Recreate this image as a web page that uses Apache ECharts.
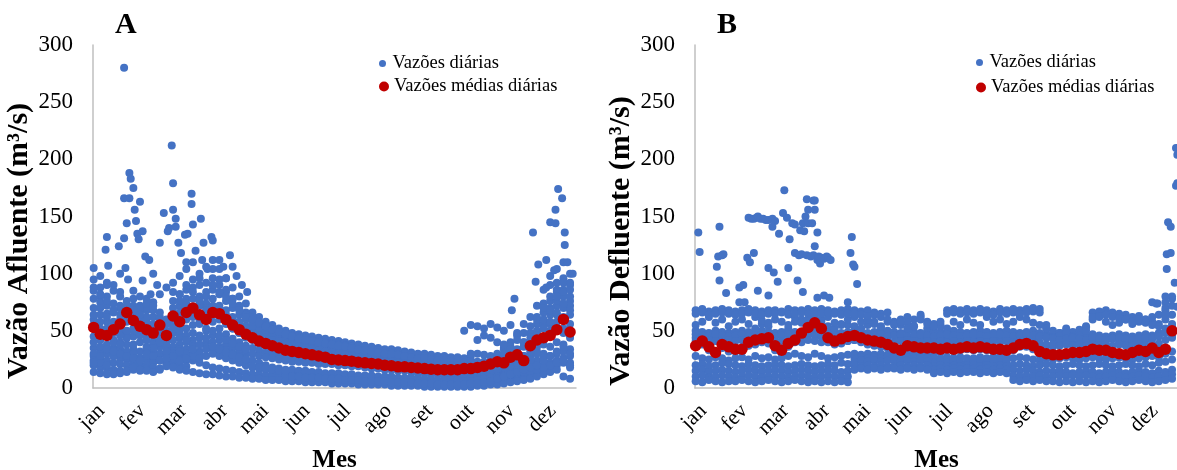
<!DOCTYPE html>
<html><head><meta charset="utf-8">
<script src="https://cdn.jsdelivr.net/npm/echarts@6/dist/echarts.min.js"></script>
<style>html,body{margin:0;padding:0;background:#fff}#c{width:1177px;height:470px}</style>
</head><body><div id="c"></div>
<script>
// ---- categories / tick labels ----
const months = ['jan','fev','mar','abr','mai','jun','jul','ago','set','out','nov','dez'];
const monthLengths = [31,28,31,30,31,30,31,31,30,31,30,31];
const sampleDays = [0,5,10,15,20,25,30,35,40,45,50,55,60,65,70,75,80,85,90,95,100,105,110,115,120,125,130,135,140,145,150,155,160,165,170,175,180,185,190,195,200,205,210,215,220,225,230,235,240,245,250,255,260,265,270,275,280,285,290,295,300,305,310,315,320,325,330,335,340,345,350,355,360];

// ---- A: Vazão Afluente, daily values (one row per year-like trace, read every 5 days) ----
const afl1 = [105,98,92,85,80,76, 78,72,68,75,82,88, 92,98,104,110,100,106, 112,104,96,88,80,74, 66,62,58,55,52,50, 48,47,46,45,44,43, 42,41,40,39,38,37, 36,35,34,34,33,32, 31,30,30,29,28,28, 27,27,26,28,30,29, 28,30,34,40,48,56, 62,72,86,98,104,110,100];
const afl2 = [95,88,80,74,70,66, 85,80,70,62,60,58, 64,72,86,95,90,84, 96,90,84,78,72,66, 62,58,55,52,50,48, 46,45,44,42,41,40, 39,38,37,36,35,34, 33,33,32,31,30,29, 28,28,27,26,26,25, 25,24,24,23,22,22, 22,24,26,30,34,40, 48,56,66,76,86,96,90];
const afl3 = [85,80,72,68,64,60, 62,58,55,52,50,48, 76,82,78,88,96,92, 86,82,76,70,64,60, 56,53,50,48,46,44, 42,41,40,39,38,37, 36,35,34,33,33,32, 31,30,29,29,28,27, 27,26,25,24,23,22, 22,21,50,55,54,52, 56,53,50,55,46,40, 44,50,56,64,72,80,76];
const afl4 = [70,64,58,55,60,66, 72,66,60,56,52,50, 58,66,62,70,80,74, 78,72,68,62,58,54, 50,47,45,43,41,40, 38,37,36,35,34,33, 32,31,30,29,28,27, 26,25,24,24,23,22, 22,21,21,20,20,19, 19,18,18,18,17,17, 18,19,20,22,24,26, 30,36,42,50,58,62,56];
const afl5 = [55,50,46,42,40,38, 45,48,44,40,38,36, 48,55,60,66,58,62, 70,64,58,52,48,44, 42,39,37,35,34,32, 30,29,28,27,26,25, 24,24,23,22,22,21, 20,20,19,19,18,18, 17,17,16,16,15,15, 14,14,14,13,13,14, 15,16,18,20,24,28, 34,40,38,46,52,48,44];
const afl6 = [45,42,38,35,33,30, 34,40,36,32,30,28, 36,44,52,48,56,50, 58,52,47,43,40,37, 35,33,31,30,28,27, 26,25,25,24,24,23, 24,23,23,22,22,22, 21,21,20,20,19,19, 18,18,17,17,16,16, 15,15,14,14,15,16, 16,18,20,22,24,26, 28,32,30,36,40,38,34];
const afl7 = [35,32,30,28,26,25, 28,26,24,26,30,28, 32,38,34,42,46,40, 46,42,38,35,32,30, 30,28,27,26,25,24, 23,23,22,22,21,21, 21,20,20,19,19,18, 17,17,16,16,15,15, 14,13,13,12,12,11, 11,10,10,9,9,10, 10,12,14,16,18,20, 22,24,26,28,30,32,28];
const afl8 = [28,26,24,22,21,20, 22,20,20,22,24,22, 26,28,24,30,32,28, 34,30,27,25,23,21, 18,17,16,15,14,14, 13,13,12,12,12,11, 11,11,10,10,10,9, 9,9,8,8,8,7, 7,6,6,6,5,5, 5,5,4,4,5,6, 7,8,9,10,12,14, 16,18,20,22,24,26,22];
const afl9 = [20,18,17,16,15,14, 16,15,17,18,16,20, 22,20,19,24,22,20, 18,17,16,15,14,13, 12,12,11,11,10,10, 9,9,8,8,8,7, 7,7,6,6,6,5, 5,5,5,4,4,4, 4,3,3,3,3,2, 2,2,2,2,3,3, 4,5,6,7,8,10, 12,14,16,18,20,22,18];
const afl10 = [14,13,12,12,13,15, 18,16,15,14,17,19, 18,16,15,14,13,12, 12,11,10,10,9,9, 8,8,7,7,7,6, 6,6,5,5,5,5, 4,4,4,4,3,3, 3,3,3,2,2,2, 2,2,1,1,1,1, 1,1,1,1,2,2, 3,3,4,5,6,7, 8,10,12,14,16,10,8];
const afl11 = [60,75,90,68,52,48, 58,70,62,54,48,44, 70,82,90,78,72,66, 104,95,86,78,70,64, 58,54,50,47,44,42, 40,38,37,36,35,34, 33,32,31,30,29,28, 27,26,26,25,24,23, 22,22,21,20,19,19, 18,18,17,17,16,16, 20,28,35,30,26,24, 40,60,74,90,84,70,64];
const afl12 = [40,52,65,58,48,44, 52,62,56,50,46,42, 52,46,40,55,62,70, 64,60,56,52,48,45, 46,44,42,40,38,36, 34,33,32,31,30,29, 28,28,27,26,25,24, 23,22,22,21,20,20, 19,18,18,17,17,16, 15,15,16,15,14,14, 16,17,18,20,22,24, 36,48,60,70,76,86,72];
const afl13 = [78,70,62,66,72,58, 50,46,42,38,36,34, 42,50,46,38,44,52, 50,46,42,39,36,34, 54,51,49,47,45,43, 41,40,39,38,37,36, 35,34,33,32,32,31, 30,29,28,28,27,26, 25,25,24,23,23,22, 21,20,20,19,19,19, 14,16,20,26,22,18, 24,30,44,56,64,52,46];
const afl14 = [30,36,48,40,34,32, 38,32,28,35,42,38, 30,34,42,36,30,36, 40,36,33,30,28,26, 24,22,20,18,17,16, 16,15,15,14,14,13, 13,13,12,12,11,11, 11,10,10,10,9,9, 9,8,8,8,7,7, 7,7,6,6,7,8, 9,10,11,12,13,14, 15,16,18,20,22,24,20];
const afl15 = [88,82,76,90,84,72, 66,60,74,68,62,56, 84,76,70,62,74,80, 90,84,80,74,68,62, 58,56,53,51,49,47, 45,44,43,42,41,40, 39,38,37,36,36,35, 34,33,32,31,31,30, 29,29,28,27,26,26, 25,25,24,24,23,23, 24,26,30,36,42,48, 54,62,70,80,92,84,80];
const afl16 = [24,22,20,28,38,44, 30,26,34,46,40,32, 26,24,30,28,26,44, 30,28,26,24,22,20, 19,18,17,16,15,15, 10,10,9,9,9,8, 8,8,7,7,7,6, 6,6,6,5,5,5, 5,4,4,4,3,3, 3,3,3,4,4,5, 6,8,10,12,14,16, 18,20,24,28,32,36,30];
const afl17 = [64,58,52,48,46,50, 68,64,78,72,66,60, 54,62,74,84,76,68, 72,68,64,60,56,52, 48,46,44,42,41,39, 37,36,35,34,33,32, 31,30,29,28,27,26, 25,24,23,23,22,21, 21,20,20,19,19,18, 17,17,18,30,42,46, 44,40,38,34,30,28, 32,44,52,68,80,92,86];
const afl18 = [22,28,34,32,30,28, 26,24,30,28,24,26, 28,32,26,34,38,34, 36,34,31,29,27,25, 60,57,54,51,49,47, 45,43,42,41,40,39, 38,37,36,35,34,33, 32,31,30,30,29,28, 27,26,26,25,24,24, 23,23,22,22,21,21, 22,23,25,28,32,36, 40,46,52,58,66,74,68];
// isolated high daily values [day, m3/s]
const outliersAfl = [[23,280],[27,188],[28,183],[30,175],[23,166],[27,166],[31,156],[25,144],[32,146],[35,163],[23,131],[19,124],[10,132],[9,121],[11,107],[33,135],[34,130],[37,137],[39,115],[42,112],[43,82],[37,94],[20,100],[24,105],[26,95],[45,100],[48,90],
[59,212],[60,179],[53,153],[60,156],[62,148],[62,141],[57,140],[56,137],[50,127],[64,127],[74,170],[74,161],[75,143],[81,148],[69,134],[71,135],[89,132],[90,129],[83,127],[103,116],[105,106],[66,118],[70,110],[77,120],[82,112],[86,104],[95,112],[98,106],[100,96],[108,98],[112,90],[116,84],
[351,174],[354,166],[349,156],[345,145],[356,136],[332,136],[356,125],[349,144],[336,108],[342,112],[348,103],[334,93],[342,88],[318,78],[316,68],[358,110],[362,100],[360,92]];
// daily mean (every 5 days)
const meanAfl = [53,47,46,51,56,66, 59,54,51,48,55,46, 63,58,66,70,64,60, 66,65,60,55,51,47, 44,41,39,37,35,33, 32,31,30,29,28,27, 25,24.5,24,23.5,22.5,22, 21.5,21,20,19.5,18.5,18.5, 18,17.5,17,16.5,16,16, 16,16,17,17,18,19, 21,23,22,27,29,24, 37,42,44,46,51,60,49];

// ---- B: Vazão Defluente ----
const def1 = [68,69,67,68,69,68, 67,68,69,68,67,68, 68,67,69,68,68,69, 68,69,68,67,68,69, 68,67,68,66,65,66, 58,55,62,60,64,52, 50,55,68,69,68,69, 68,69,68,67,69,68, 69,68,69,70,69,55, 46,48,50,47,48,54, 66,67,68,66,65,64, 62,63,60,58,56,75,78];
const def2 = [50,49,48,50,49,48, 49,50,49,48,50,49, 48,49,50,49,48,50, 49,48,50,49,48,49, 50,49,48,49,50,48, 49,48,50,49,48,49, 48,49,48,50,49,48, 49,50,49,48,49,50, 49,48,49,50,48,47, 46,45,46,47,46,45, 47,46,45,46,47,46, 45,46,47,46,48,52,56];
const def3 = [44,46,42,45,43,47, 44,42,46,52,56,54, 45,48,52,58,60,56, 62,58,54,52,56,55, 54,52,55,58,53,50, 46,44,42,45,43,44, 42,44,43,41,44,42, 43,42,44,42,43,41, 42,44,45,43,40,38, 36,38,40,39,41,42, 40,42,41,43,40,39, 38,40,42,44,46,60,64];
const def4 = [36,38,33,30,35,32, 32,35,37,38,40,39, 33,30,36,40,45,50, 52,46,40,38,39,41, 42,40,38,37,36,35, 32,30,34,33,32,32, 32,31,33,32,33,34, 33,34,33,32,31,31, 33,36,36,34,29,27, 27,28,29,29,30,31, 32,31,30,29,27,28, 30,31,29,32,28,33,44];
const def5 = [28,26,25,27,26,24, 26,27,25,28,26,27, 25,26,28,30,28,27, 30,28,26,27,28,29, 30,29,30,29,30,29, 30,29,30,29,30,29, 27,26,27,26,27,26, 26,27,26,27,26,27, 26,27,26,25,24,26, 25,26,27,26,25,26, 27,26,25,26,27,26, 25,26,27,28,27,30,32];
const def6 = [20,21,19,20,22,21, 20,19,21,20,19,20, 21,20,19,20,21,20, 19,20,21,20,22,21, 26,27,26,27,26,27, 27,26,27,26,27,26, 22,23,22,23,22,23, 22,23,22,23,22,23, 20,21,20,19,20,21, 20,19,20,21,20,19, 20,21,20,19,20,21, 20,19,21,20,22,23,25];
const def7 = [15,16,14,15,16,15, 14,15,16,15,14,15, 16,15,14,15,16,15, 14,15,16,15,14,15, 23,24,23,24,23,24, 24,23,24,23,24,23, 19,20,19,20,19,20, 20,19,20,19,20,19, 16,15,16,15,14,15, 14,15,14,13,14,15, 14,13,14,15,14,13, 14,15,14,13,15,14,16];
const def8 = [10,11,9,10,11,10, 9,10,11,10,9,10, 11,10,9,10,11,10, 9,10,11,10,9,10, 20,19,20,19,20,19, 19,20,19,20,19,20, 16,17,16,17,16,17, 17,16,17,16,17,16, 11,10,11,10,11,10, 10,11,10,11,10,11, 10,9,10,11,10,9, 10,11,10,9,10,11,12];
const def9 = [6,5,7,6,5,6, 6,7,6,5,6,7, 6,5,6,7,6,5, 6,5,6,5,6,5, 16,17,16,17,16,17, 17,16,17,16,17,16, 13,14,13,14,13,14, 14,13,14,13,14,13, 7,6,7,6,7,6, 6,5,6,5,6,5, 6,5,6,7,6,5, 6,7,6,5,6,7,8];
const def10 = [55,58,62,57,60,54, 58,60,56,62,59,57, 60,58,55,62,57,60, 58,60,62,57,55,60, 62,58,60,56,54,58, 55,60,57,54,62,58, 56,54,52,58,55,60, 57,55,62,58,60,56, 58,62,60,57,55,52, 50,48,52,49,51,53, 60,62,58,55,57,60, 56,58,60,62,64,70,80];
const def11 = [65,66,64,65,66,65, 64,65,66,65,64,65, 65,66,64,65,66,65, 64,65,66,65,64,65, 65,64,63,64,62,60, 56,58,52,54,60,56, 54,58,65,66,65,66, 65,66,65,64,66,65, 66,65,66,67,66,52, 44,46,48,45,46,50, 62,63,64,62,61,60, 58,60,57,55,54,68,72];
const def12 = [47,46,45,47,46,45, 46,47,45,46,47,46, 45,46,47,46,45,47, 46,45,47,46,45,46, 47,46,45,46,47,45, 46,47,45,46,47,46, 45,46,47,46,45,46, 47,46,45,46,47,46, 45,46,47,46,45,44, 43,42,43,44,43,42, 44,43,42,43,44,43, 42,43,44,43,45,48,54];
const def13 = [41,40,42,41,40,42, 41,42,40,41,42,41, 40,41,42,41,40,42, 41,40,42,41,40,41, 42,41,40,41,42,41, 40,41,42,41,40,41, 40,41,40,41,40,41, 40,41,40,41,40,41, 40,41,40,39,38,37, 38,37,38,37,38,37, 38,37,38,37,38,37, 37,38,37,38,39,42,46];
const outliersDef = [[2,136],[3,119],[18,141],[16,106],[17,115],[20,116],[21,117],[18,94],[23,83],[33,88],[36,90],[39,114],[41,110],[44,118],[47,85],[33,75],[37,75],
[40,149],[42,148],[44,148],[46,149],[47,150],[49,148],[51,148],[53,147],[55,147],[58,148],[60,146],[58,141],[63,135],[55,105],[59,101],[62,93],[55,81],
[67,173],[66,153],[69,149],[73,144],[75,143],[71,130],[70,105],[77,94],[81,84],[75,118],[84,165],[89,164],[90,164],[85,156],[83,150],[81,144],[90,156],[85,144],[88,144],[79,138],[82,137],[92,136],[90,124],[94,109],[92,112],[99,115],[92,79],[97,81],[101,79],
[78,116],[80,117],[84,116],[87,115],[89,116],[93,115],[95,114],[97,113],[100,114],[102,112],
[118,132],[117,118],[119,108],[120,106],[122,91],[115,75],
[363,210],[364,204],[363,177],[364,179],[357,145],[359,141],[356,117],[359,118],[356,104],[355,80],[355,64],[348,74],[349,74],[345,75],[364,71],[362,92]];
const meanDef = [37,41,36,31,38,36, 34,34,40,42,43,44, 37,33,39,42,48,53, 57,52,44,41,43,45, 46,44,42,41,40,38, 35,33,37,36,35,35, 35,34,35,34,35,36, 35,36,35,34,34,33, 35,38,39,37,32,30, 29,29,30,31,31,32, 34,33,33,31,30,29, 31,33,32,35,31,34,50];

// ---- build ----
const SERIF = "'Liberation Serif','Times New Roman',serif";
const dayLabels = [];
months.forEach((m, i) => { for (let k = 0; k < monthLengths[i]; k++) dayLabels.push(m); });
const toPairs = vals => vals.map((v, i) => [sampleDays[i], v]);
const blueA = [].concat(...[afl1,afl2,afl3,afl4,afl5,afl6,afl7,afl8,afl9,afl10,afl11,afl12,afl13,afl14,afl15,afl16,afl17,afl18].map(toPairs), outliersAfl);
const blueB = [].concat(...[def1,def2,def3,def4,def5,def6,def7,def8,def9,def10,def11,def12,def13].map(toPairs), outliersDef);

const BLUE = '#4472C4', RED = '#C00000', AXIS = '#BFBFBF';
function xAx(gi) {
  return { type: 'category', gridIndex: gi, data: dayLabels, boundaryGap: true,
    axisLine: { show: true, lineStyle: { color: AXIS, width: 1.5 } }, axisTick: { show: false }, splitLine: { show: false },
    axisLabel: { interval: 30, rotate: 45, margin: 12, fontFamily: SERIF, fontSize: 21.5, color: '#000', align: 'right', verticalAlign: 'top' },
    name: 'Mes', nameLocation: 'middle', nameGap: 60,
    nameTextStyle: { fontFamily: SERIF, fontSize: 25, fontWeight: 'bold', color: '#000' } };
}
function yAx(gi, name) {
  return { type: 'value', gridIndex: gi, min: 0, max: 300, interval: 50,
    axisLine: { show: true, lineStyle: { color: AXIS, width: 1.5 } }, axisTick: { show: false }, splitLine: { show: false },
    axisLabel: { margin: 20, fontFamily: SERIF, fontSize: 23, color: '#000' },
    name: name, nameLocation: 'middle', nameGap: 50,
    nameTextStyle: { fontFamily: SERIF, fontSize: 30, fontWeight: 'bold', color: '#000', padding: [0, 49, 0, 0] } };
}
function legend(name, left, top, size) {
  return { data: [name], left: left, top: top, padding: 0, icon: 'circle', itemWidth: 10, itemHeight: size,
    textStyle: { fontFamily: SERIF, fontSize: 18.5, color: '#000' } };
}
const option = {
  animation: false,
  backgroundColor: '#fff',
  title: [
    { text: 'A', left: 115, top: 10, padding: 0, textStyle: { fontFamily: SERIF, fontSize: 30, fontWeight: 'bold', color: '#000' } },
    { text: 'B', left: 717, top: 10, padding: 0, textStyle: { fontFamily: SERIF, fontSize: 30, fontWeight: 'bold', color: '#000' } }
  ],
  legend: [
    legend('Vazões diárias', 379, 54, 7),
    legend('Vazões médias diárias', 379, 77, 11),
    legend('Vazões diárias', 976, 53, 7),
    legend('Vazões médias diárias', 976, 78, 11)
  ],
  grid: [
    { left: 93, top: 45, width: 483, height: 343, containLabel: false, outerBoundsMode: 'none' },
    { left: 695, top: 45, width: 483, height: 343, containLabel: false, outerBoundsMode: 'none' }
  ],
  xAxis: [xAx(0), xAx(1)],
  yAxis: [yAx(0, 'Vazão Afluente (m³/s)'), yAx(1, 'Vazão Defluente (m³/s)')],
  series: [
    { name: 'Vazões diárias', type: 'scatter', xAxisIndex: 0, yAxisIndex: 0, symbolSize: 8, itemStyle: { color: BLUE, opacity: 1 }, data: blueA },
    { name: 'Vazões médias diárias', type: 'scatter', xAxisIndex: 0, yAxisIndex: 0, symbolSize: 11.5, itemStyle: { color: RED, opacity: 1 }, data: toPairs(meanAfl) },
    { name: 'Vazões diárias', type: 'scatter', xAxisIndex: 1, yAxisIndex: 1, symbolSize: 8, itemStyle: { color: BLUE, opacity: 1 }, data: blueB },
    { name: 'Vazões médias diárias', type: 'scatter', xAxisIndex: 1, yAxisIndex: 1, symbolSize: 11.5, itemStyle: { color: RED, opacity: 1 }, data: toPairs(meanDef) }
  ]
};
const chart = echarts.init(document.getElementById('c'), null, { renderer: 'canvas' });
chart.setOption(option);
</script>
</body></html>
